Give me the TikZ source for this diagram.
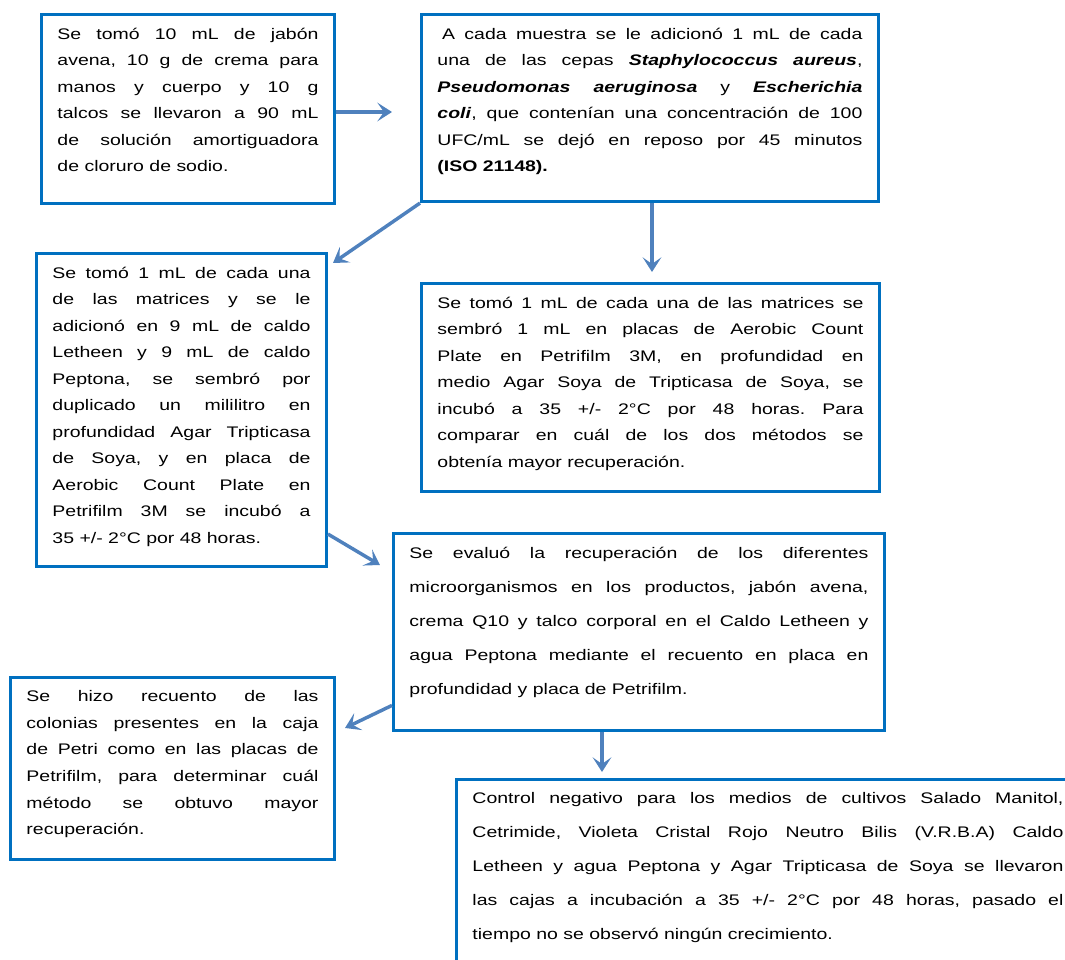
\documentclass[tikz,border=0pt]{standalone}
\usepackage{fontspec}
\setmainfont{Liberation Sans}[FakeStretch=1.27]
\usepackage{tikz}
\usetikzlibrary{arrows.meta}
\definecolor{borde}{RGB}{0,112,192}
\definecolor{flecha}{RGB}{79,129,189}
\frenchspacing

\begin{document}
\begin{tikzpicture}[x=0.75pt, y=-0.75pt,
    paso/.style={draw=borde, line width=2.2pt, anchor=north west, align=justify,
      inner xsep=12pt, inner ysep=10pt,
      font=\fontsize{11.5}{19.9}\selectfont,
      execute at end node={\endgraf\vspace*{#1}}},
    flechita/.style={draw=flecha, line width=2.6pt,
      -{Stealth[length=11pt, width=14pt, inset=5pt]}}]
    \useasboundingbox (0,0) rectangle (1065,960);
    \clip (0,0) rectangle (1065,960);

    %% first row
    \node[paso=14pt, text width=195.75pt] (muestras) at (40,13)
      {Se tomó 10 mL de jabón\linebreak avena, 10 g de crema para\linebreak
       manos y cuerpo y 10 g\linebreak talcos se llevaron a 90 mL\linebreak
       de solución amortiguadora\linebreak de cloruro de sodio.};
    \node[paso=10pt, text width=318.75pt] (cepas) at (420,13)
      {\hspace{0.3em}A cada muestra se le adicionó 1 mL de cada\linebreak
       una de las cepas \textbf{\textit{Staphylococcus aureus}},\linebreak
       \textbf{\textit{Pseudomonas aeruginosa}} y \textbf{\textit{Escherichia}}\linebreak
       \textbf{\textit{coli}}, que contenían una concentración de 100\linebreak
       UFC/mL se dejó en reposo por 45 minutos\linebreak \textbf{(ISO 21148).}};

    %% second row
    \node[paso=5pt, text width=193.5pt] (caldos) at (35,252)
      {Se tomó 1 mL de cada una\linebreak de las matrices y se le\linebreak
       adicionó en 9 mL de caldo\linebreak Letheen y 9 mL de caldo\linebreak
       Peptona, se sembró por\linebreak duplicado un mililitro en\linebreak
       profundidad Agar Tripticasa\linebreak de Soya, y en placa de\linebreak
       Aerobic Count Plate en\linebreak Petrifilm 3M se incubó a\linebreak
       35 +/- 2°C por 48 horas.};
    \node[paso=5.5pt, text width=319.5pt] (placas) at (420,282)
      {Se tomó 1 mL de cada una de las matrices se\linebreak
       sembró 1 mL en placas de Aerobic Count\linebreak
       Plate en Petrifilm 3M, en profundidad en\linebreak
       medio Agar Soya de Tripticasa de Soya, se\linebreak
       incubó a 35 +/- 2°C por 48 horas. Para\linebreak
       comparar en cuál de los dos métodos se\linebreak
       obtenía mayor recuperación.};

    %% third row
    \node[paso=15pt, text width=344.25pt, font=\fontsize{11.5}{25.5}\selectfont] (evaluacion) at (392,532)
      {Se evaluó la recuperación de los diferentes\linebreak
       microorganismos en los productos, jabón avena,\linebreak
       crema Q10 y talco corporal en el Caldo Letheen y\linebreak
       agua Peptona mediante el recuento en placa en\linebreak
       profundidad y placa de Petrifilm.};
    \node[paso=6pt, text width=219pt] (recuento) at (9,676)
      {Se hizo recuento de las\linebreak colonias presentes en la caja\linebreak
       de Petri como en las placas de\linebreak Petrifilm, para determinar cuál\linebreak
       método se obtuvo mayor\linebreak recuperación.};
    \node[paso=40pt, text width=443.25pt, font=\fontsize{11.5}{25.5}\selectfont] (control) at (455,778)
      {Control negativo para los medios de cultivos Salado Manitol,\linebreak
       Cetrimide, Violeta Cristal Rojo Neutro Bilis (V.R.B.A) Caldo\linebreak
       Letheen y agua Peptona y Agar Tripticasa de Soya se llevaron\linebreak
       las cajas a incubación a 35 +/- 2°C por 48 horas, pasado el\linebreak
       tiempo no se observó ningún crecimiento.};

    %% arrows
    \coordinate (p12) at (392,112);
    \coordinate (p23) at (333,263);
    \coordinate (p24) at (652,272);
    \coordinate (p35) at (380,565);
    \coordinate (p56) at (345,728);
    \coordinate (p57) at (602,772);
    \draw[flechita] (muestras.east |- p12) -- (p12);
    \draw[flechita] (cepas.south west) -- (p23);
    \draw[flechita] (cepas.south -| p24) -- (p24);
    \draw[flechita] ([yshift=25.5pt]caldos.south east) -- (p35);
    \draw[flechita] ([yshift=20pt]evaluacion.south west) -- (p56);
    \draw[flechita] (evaluacion.south -| p57) -- (p57);
\end{tikzpicture}
\end{document}
